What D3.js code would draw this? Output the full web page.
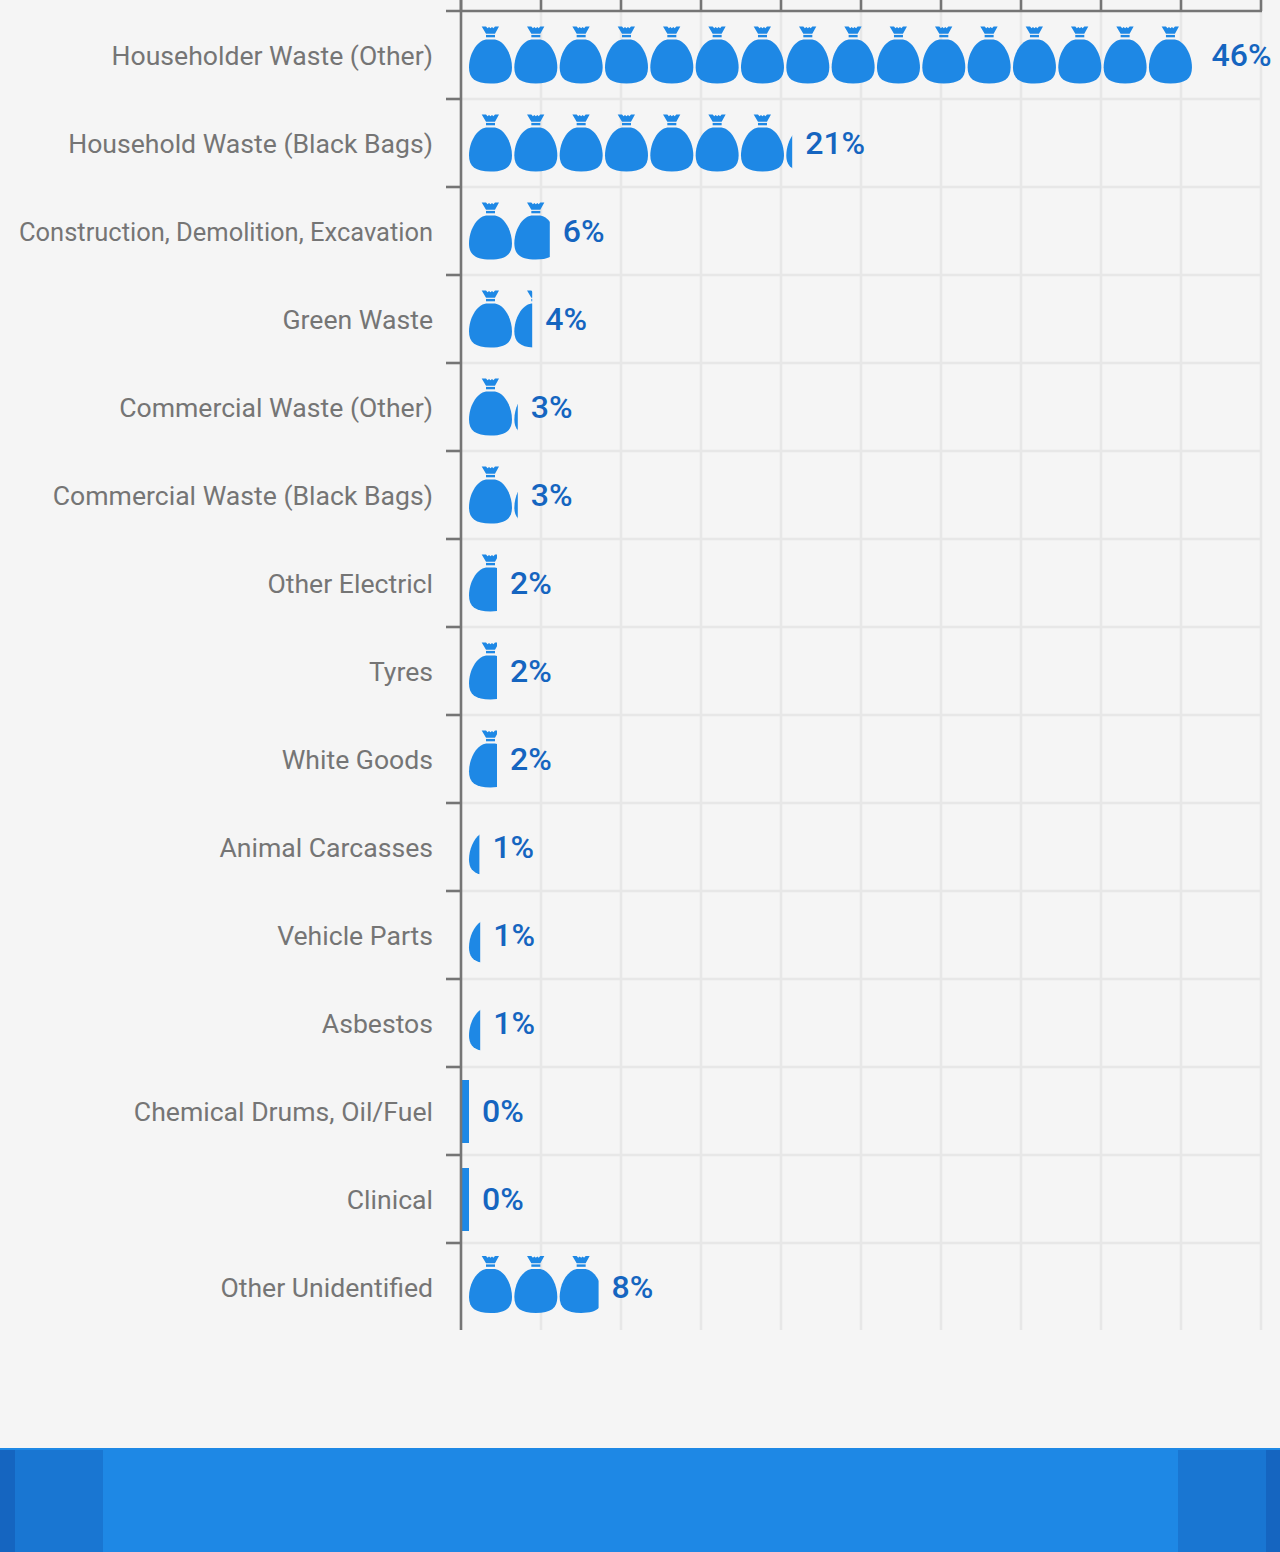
<!DOCTYPE html>
<html>
<head>
<meta charset="utf-8">
<title>Waste types</title>
<script src="https://cdn.jsdelivr.net/npm/d3@7"></script>
<style>
  html, body { margin: 0; padding: 0; background: #f5f5f5; }
  svg { display: block; }
  text { font-family: Roboto, sans-serif; }
</style>
</head>
<body>
<div class="container"></div>
<script>
const categories = [
  'Householder Waste (Other)', 'Household Waste (Black Bags)', 'Construction, Demolition, Excavation',
  'Green Waste', 'Commercial Waste (Other)', 'Commercial Waste (Black Bags)', 'Other Electricl',
  'Tyres', 'White Goods', 'Animal Carcasses', 'Vehicle Parts', 'Asbestos',
  'Chemical Drums, Oil/Fuel', 'Clinical', 'Other Unidentified'
]
// estimated from the length of each row of bags
const values = [45.6, 20.2, 5.05, 3.95, 3.05, 3.05, 1.75, 1.75, 1.75, 0.65, 0.7, 0.7, 0, 0, 8.1]
const valueLabels = ['46%', '21%', '6%', '4%', '3%', '3%', '2%', '2%', '2%', '1%', '1%', '1%', '0%', '0%', '8%']
const xTicks = [0, 5, 10, 15, 20, 25, 30, 35, 40, 45, 50]

const width = 1280
const height = 1552
const barStart = 8      // gap between the axis and the first bag
const bagStep = 45.33
const maxBags = 16
const maxLabelWidth = 414

const svg = d3.select('.container')
  .append('svg')
  .attr('width', width)
  .attr('height', height)

svg.append('rect')
  .attr('width', width)
  .attr('height', height)
  .attr('fill', '#f5f5f5')

const scaleX = d3.scaleLinear().domain([0, 50]).range([461, 1261])
const scaleY = d3.scaleBand().domain(categories).range([11, 1331])

// grid
svg.append('g')
  .selectAll('line')
  .data(xTicks.slice(1))
  .enter()
  .append('line')
  .attr('x1', d => scaleX(d))
  .attr('x2', d => scaleX(d))
  .attr('y1', 11)
  .attr('y2', 1330)
  .attr('stroke', '#e7e7e7')
  .attr('stroke-width', 2.6)

svg.append('g')
  .selectAll('line')
  .data(categories.slice(1))
  .enter()
  .append('line')
  .attr('x1', 461)
  .attr('x2', 1261)
  .attr('y1', d => scaleY(d))
  .attr('y2', d => scaleY(d))
  .attr('stroke', '#e7e7e7')
  .attr('stroke-width', 2.6)

// bags
const bag = svg.append('defs').append('g').attr('id', 'bag')
bag.append('path')
  .attr('d', 'M12.7,0 L17,0 L18.6,1.7 L20,0.4 L21.5,1.8 L23,0.4 L24.4,1.7 L26,0 L30,0 L26,7.3 L17,7.3 Z')
bag.append('rect').attr('x', 17).attr('y', 8.4).attr('width', 9).attr('height', 2.4)
bag.append('path')
  .attr('d', 'M17,13 L26,13 C35.5,14.5 43,28 43,41 C43,52 36.5,57 21.5,57 C6.5,57 0,52 0,41 C0,28 7.5,14.5 17,13 Z')

const rows = svg.append('g')
  .selectAll('g')
  .data(categories)
  .enter()
  .append('g')

rows.each(function (name, i) {
  const row = d3.select(this)
  const end = scaleX(values[i]) + barStart
  const top = scaleY(name)

  if (values[i] === 0) {
    row.append('rect')
      .attr('x', scaleX(0) + 1)
      .attr('y', top + 13)
      .attr('width', barStart - 1)
      .attr('height', 63)
      .attr('fill', '#1e88e5')
    return
  }

  const clipId = 'row-clip-' + i
  svg.select('defs').append('clipPath')
    .attr('id', clipId)
    .append('rect')
    .attr('x', scaleX(0))
    .attr('y', top)
    .attr('width', end - scaleX(0))
    .attr('height', scaleY.bandwidth())

  // the last row sits a little higher than the others
  const bagY = top + (i === categories.length - 1 ? 13 : 15.5)
  const count = Math.min(maxBags, Math.ceil((end - scaleX(0) - barStart) / bagStep))

  row.append('g')
    .attr('clip-path', 'url(#' + clipId + ')')
    .selectAll('use')
    .data(d3.range(count))
    .enter()
    .append('use')
    .attr('href', '#bag')
    .attr('x', d => scaleX(0) + barStart + d * bagStep)
    .attr('y', bagY)
    .attr('fill', '#1e88e5')
})

rows.append('text')
  .attr('x', (d, i) => scaleX(values[i]) + barStart + 13)
  .attr('y', d => scaleY(d) + scaleY.bandwidth() / 2 - 0.3)
  .attr('dy', '0.35em')
  .attr('font-size', 32)
  .attr('font-weight', 500)
  .attr('fill', '#1565c0')
  .text((d, i) => valueLabels[i])

// axes
const y_axis = d3.axisLeft(scaleY).tickSize(0).tickPadding(28).offset(0)
svg.append('g')
  .attr('transform', 'translate(461, 1.5)')
  .call(y_axis)
  .call(g => g.select('.domain').remove())
  .call(g => g.selectAll('text')
    .attr('font-size', 26.6)
    .attr('fill', '#757575')
    .style('font-family', 'Roboto, sans-serif')
    .each(function () {
      // the longest label is squeezed to fit, as in the original
      if (this.getComputedTextLength() > maxLabelWidth) {
        d3.select(this)
          .attr('textLength', maxLabelWidth)
          .attr('lengthAdjust', 'spacingAndGlyphs')
      }
    }))

const x_axis = d3.axisTop(scaleX).tickValues(xTicks).tickSize(11).tickFormat('').offset(0)
svg.append('g')
  .attr('transform', 'translate(0, 11)')
  .call(x_axis)
  .call(g => g.select('.domain').remove())
  .call(g => g.selectAll('line').attr('stroke', '#757575').attr('stroke-width', 2.6))

const axisLines = svg.append('g')
  .attr('stroke', '#757575')
  .attr('stroke-width', 2.6)

axisLines.append('line').attr('x1', 446).attr('x2', 1262).attr('y1', 11).attr('y2', 11)
axisLines.append('line').attr('x1', 461).attr('x2', 461).attr('y1', 0).attr('y2', 1330)

axisLines.selectAll('.row-tick')
  .data(categories.slice(1))
  .enter()
  .append('line')
  .attr('class', 'row-tick')
  .attr('x1', 446)
  .attr('x2', 461)
  .attr('y1', d => scaleY(d))
  .attr('y2', d => scaleY(d))

// blue band along the bottom
const footer = svg.append('g')
footer.append('rect').attr('x', 0).attr('y', 1448).attr('width', width).attr('height', 104).attr('fill', '#1e88e5')
footer.append('rect').attr('x', 0).attr('y', 1450).attr('width', 103).attr('height', 102).attr('fill', '#1976d2')
footer.append('rect').attr('x', 0).attr('y', 1450).attr('width', 15).attr('height', 102).attr('fill', '#1565c0')
footer.append('rect').attr('x', 1178).attr('y', 1450).attr('width', 102).attr('height', 102).attr('fill', '#1976d2')
footer.append('rect').attr('x', 1266).attr('y', 1450).attr('width', 14).attr('height', 102).attr('fill', '#1565c0')
</script>
</body>
</html>
